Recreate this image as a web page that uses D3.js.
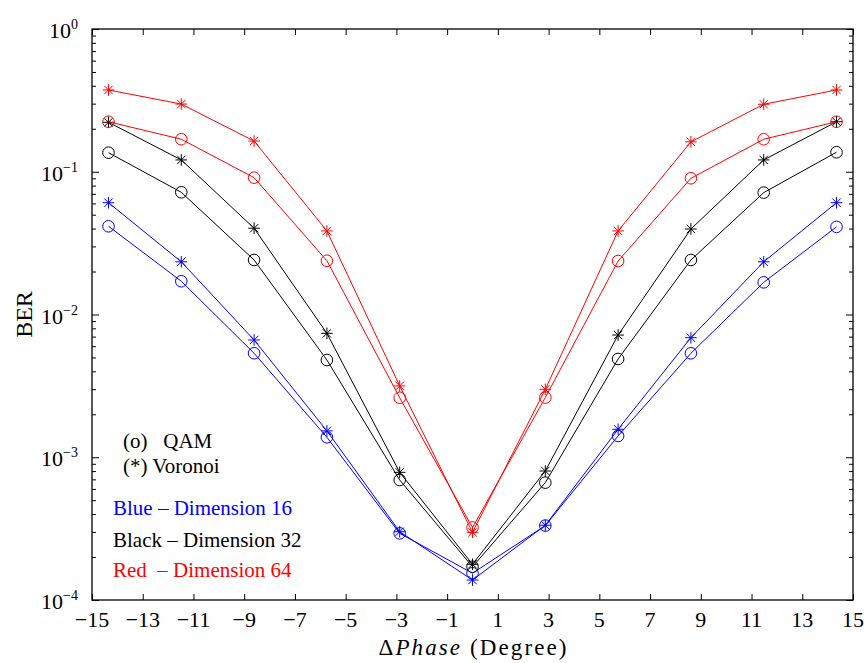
<!DOCTYPE html>
<html><head><meta charset="utf-8">
<script src="https://cdn.jsdelivr.net/npm/d3@7"></script>
<style>body{margin:0;background:#fff}svg{display:block}text{font-family:"Liberation Serif","Times New Roman",serif}</style>
</head><body><svg id="c" width="867" height="663"></svg>
<script>
const phase = [-14.35, -11.48, -8.61, -5.74, -2.87, 0, 2.87, 5.74, 8.61, 11.48, 14.35];
const qam16 = [0.0415, 0.0171, 0.00535, 0.00138, 0.000293, 0.000154, 0.000332, 0.00141, 0.00535, 0.0168, 0.0411];
const vor16 = [0.0607, 0.0234, 0.00663, 0.00153, 0.000301, 0.000138, 0.000334, 0.00157, 0.00688, 0.0234, 0.0607];
const qam32 = [0.136, 0.0718, 0.0241, 0.0048, 0.000693, 0.000171, 0.000664, 0.00488, 0.0241, 0.0714, 0.137];
const vor32 = [0.222, 0.121, 0.0402, 0.00738, 0.000784, 0.000178, 0.000801, 0.00718, 0.0397, 0.121, 0.224];
const qam64 = [0.224, 0.169, 0.0909, 0.0238, 0.00261, 0.000322, 0.00262, 0.0237, 0.090, 0.169, 0.224];
const vor64 = [0.374, 0.298, 0.164, 0.0385, 0.00316, 0.000298, 0.00299, 0.0385, 0.162, 0.297, 0.374];
const xTicks = [-15, -13, -11, -9, -7, -5, -3, -1, 1, 3, 5, 7, 9, 11, 13, 15];
const yExps = [-4, -3, -2, -1, 0];
const legendLines = [
  {text: "(o)   QAM", color: "#000"},
  {text: "(*) Voronoi", color: "#000"},
  {text: "Blue \u2013 Dimension 16", color: "#0000ff"},
  {text: "Black \u2013 Dimension 32", color: "#000"},
  {text: "Red  \u2013 Dimension 64", color: "#ff0000"}
];
const series = [
  {vals: qam16, color: "#0000ff", marker: "o"},
  {vals: vor16, color: "#0000ff", marker: "*"},
  {vals: qam32, color: "#000000", marker: "o"},
  {vals: vor32, color: "#000000", marker: "*"},
  {vals: qam64, color: "#ff0000", marker: "o"},
  {vals: vor64, color: "#ff0000", marker: "*"}
];

const W = 867, H = 663;
const m = {l: 92, r: 14, t: 29, b: 63};
const svg = d3.select("#c");
const x = d3.scaleLinear().domain([-15, 15]).range([m.l, W - m.r]);
const y = d3.scaleLog().domain([1e-4, 1]).range([H - m.b, m.t]);

const majorY = yExps.map(e => Math.pow(10, e));
const minorY = [];
for (let e = -4; e < 0; e++) for (let k = 2; k <= 9; k++) minorY.push(k * Math.pow(10, e));

function styleAxis(g) {
  g.select(".domain").remove();
  g.selectAll("line").attr("stroke", "#000").attr("stroke-width", 1);
  g.selectAll("text").remove();
}
svg.append("g").attr("transform", `translate(0,${H - m.b})`)
  .call(d3.axisBottom(x).tickValues(xTicks).tickSize(-6).tickFormat("")).call(styleAxis);
svg.append("g").attr("transform", `translate(0,${m.t})`)
  .call(d3.axisTop(x).tickValues(xTicks).tickSize(-6).tickFormat("")).call(styleAxis);
svg.append("g").attr("transform", `translate(${m.l},0)`)
  .call(d3.axisLeft(y).tickValues(majorY).tickSize(-7).tickFormat("")).call(styleAxis);
svg.append("g").attr("transform", `translate(${m.l},0)`)
  .call(d3.axisLeft(y).tickValues(minorY).tickSize(-4).tickFormat("")).call(styleAxis);
svg.append("g").attr("transform", `translate(${W - m.r},0)`)
  .call(d3.axisRight(y).tickValues(majorY).tickSize(-7).tickFormat("")).call(styleAxis);
svg.append("g").attr("transform", `translate(${W - m.r},0)`)
  .call(d3.axisRight(y).tickValues(minorY).tickSize(-4).tickFormat("")).call(styleAxis);

svg.append("rect").attr("x", m.l).attr("y", m.t).attr("width", W - m.l - m.r).attr("height", H - m.t - m.b)
  .attr("fill", "none").attr("stroke", "#000").attr("stroke-width", 1.3);

svg.append("g").selectAll("text").data(xTicks).join("text")
  .attr("x", d => x(d)).attr("y", H - m.b + 27).attr("text-anchor", "middle")
  .attr("font-size", 22).attr("fill", "#000")
  .text(d => d < 0 ? "\u2212" + Math.abs(d) : String(d));

const yl = svg.append("g").selectAll("g").data(yExps).join("g")
  .attr("transform", d => `translate(${m.l - 14},${y(Math.pow(10, d))})`);
yl.append("text").attr("text-anchor", "end").attr("y", 9).attr("font-size", 22).attr("fill", "#000")
  .each(function(d) {
    const t = d3.select(this);
    t.append("tspan").text("10");
    t.append("tspan").attr("font-size", 14).attr("dy", -9).text(d < 0 ? "\u2212" + Math.abs(d) : String(d));
  });

const line = d3.line().x((d, i) => x(phase[i])).y(d => y(d));
const plot = svg.append("g");
series.forEach(s => {
  plot.append("path").datum(s.vals).attr("d", line).attr("fill", "none")
    .attr("stroke", s.color).attr("stroke-width", 1);
  const mk = plot.append("g").selectAll("g").data(s.vals).join("g")
    .attr("transform", (d, i) => `translate(${x(phase[i])},${y(d)})`);
  if (s.marker === "o") {
    mk.append("circle").attr("r", 5.8).attr("fill", "none").attr("stroke", s.color).attr("stroke-width", 1);
  } else {
    const r = 5.8, q = r * 0.72;
    mk.append("path").attr("d", `M${-r},0L${r},0M0,${-r}L0,${r}M${-q},${-q}L${q},${q}M${-q},${q}L${q},${-q}`)
      .attr("stroke", s.color).attr("stroke-width", 1).attr("fill", "none");
  }
});

const ly = [448, 473, 515, 547, 577];
const lx = [123, 123, 113, 113, 113];
svg.append("g").selectAll("text").data(legendLines).join("text")
  .attr("x", (d, i) => lx[i]).attr("y", (d, i) => ly[i]).attr("font-size", 21)
  .attr("fill", d => d.color).attr("xml:space", "preserve").style("white-space", "pre")
  .text(d => d.text);

const xl = svg.append("text").attr("x", x(0)).attr("y", 655).attr("text-anchor", "middle")
  .attr("font-size", 23).attr("fill", "#000")
  .attr("textLength", 188).attr("lengthAdjust", "spacing");
xl.append("tspan").text("\u0394");
xl.append("tspan").attr("font-style", "italic").text("Phase");
xl.append("tspan").attr("xml:space", "preserve").text(" (Degree)");

svg.append("text").attr("transform", `translate(32,${(m.t + H - m.b) / 2}) rotate(-90)`)
  .attr("text-anchor", "middle").attr("font-size", 24).attr("fill", "#000").text("BER");
</script></body></html>
